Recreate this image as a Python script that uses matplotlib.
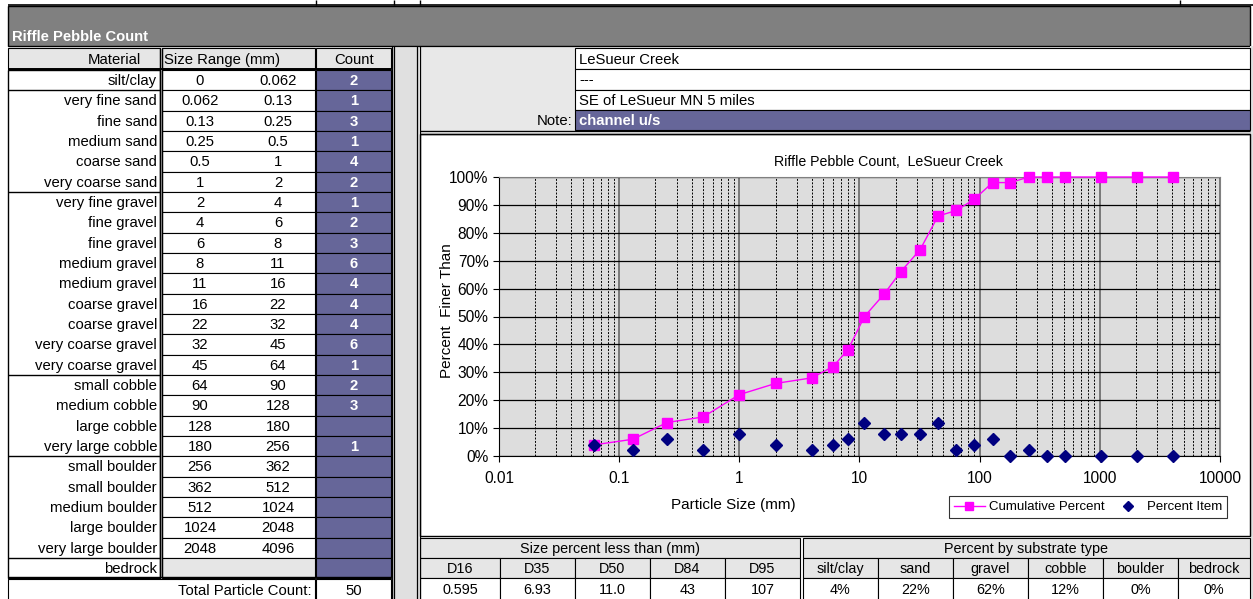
import matplotlib.pyplot as plt
import matplotlib.patches as patches
from matplotlib.ticker import FixedLocator, FuncFormatter, LogLocator, PercentFormatter
from matplotlib.lines import Line2D

plt.rcParams['font.family'] = ['Liberation Sans', 'DejaVu Sans']

# ---- data ----
materials = ['silt/clay', 'very fine sand', 'fine sand', 'medium sand', 'coarse sand',
             'very coarse sand', 'very fine gravel', 'fine gravel', 'fine gravel',
             'medium gravel', 'medium gravel', 'coarse gravel', 'coarse gravel',
             'very coarse gravel', 'very coarse gravel', 'small cobble', 'medium cobble',
             'large cobble', 'very large cobble', 'small boulder', 'small boulder',
             'medium boulder', 'large boulder', 'very large boulder', 'bedrock']
size_lo = ['0', '0.062', '0.13', '0.25', '0.5', '1', '2', '4', '6', '8', '11', '16', '22',
           '32', '45', '64', '90', '128', '180', '256', '362', '512', '1024', '2048', '']
size_hi = ['0.062', '0.13', '0.25', '0.5', '1', '2', '4', '6', '8', '11', '16', '22', '32',
           '45', '64', '90', '128', '180', '256', '362', '512', '1024', '2048', '4096', '']
counts = ['2', '1', '3', '1', '4', '2', '1', '2', '3', '6', '4', '4', '4', '6', '1', '2', '3',
          '', '1', '', '', '', '', '', '']
total_count = '50'

# chart series (x = upper size of each class)
particle_size = [0.062, 0.13, 0.25, 0.5, 1, 2, 4, 6, 8, 11, 16, 22, 32, 45, 64, 90, 128,
                 180, 256, 362, 512, 1024, 2048, 4096]
cum_pct = [4, 6, 12, 14, 22, 26, 28, 32, 38, 50, 58, 66, 74, 86, 88, 92, 98, 98, 100,
           100, 100, 100, 100, 100]
item_pct = [4, 2, 6, 2, 8, 4, 2, 4, 6, 12, 8, 8, 8, 12, 2, 4, 6, 0, 2, 0, 0, 0, 0, 0]

info_lines = ['LeSueur Creek', '---', 'SE of LeSueur MN 5 miles']
note_text = 'channel u/s'

d_labels = ['D16', 'D35', 'D50', 'D84', 'D95']
d_values = ['0.595', '6.93', '11.0', '43', '107']
sub_labels = ['silt/clay', 'sand', 'gravel', 'cobble', 'boulder', 'bedrock']
sub_values = ['4%', '22%', '62%', '12%', '0%', '0%']

PURPLE = '#666699'
LGRAY = '#e6e6e6'
FS = 10.7

W, H = 1253, 599
fig = plt.figure(figsize=(W / 100, H / 100), dpi=100)
bg = fig.add_axes([0, 0, 1, 1])
bg.set_xlim(0, W)
bg.set_ylim(H, 0)
bg.axis('off')


def box(x0, y0, x1, y1, fc='white', ec='black', lw=0.8):
    bg.add_patch(patches.Rectangle((x0, y0), x1 - x0, y1 - y0, fc=fc, ec=ec, lw=lw))


def hl(y, x0, x1, lw=1.0, c='black'):
    bg.plot([x0, x1], [y, y], color=c, lw=lw, solid_capstyle='butt')


def vl(x, y0, y1, lw=1.0, c='black'):
    bg.plot([x, x], [y0, y1], color=c, lw=lw, solid_capstyle='butt')


def txt(x, y, s, ha='center', **kw):
    kw.setdefault('fontsize', FS)
    bg.text(x, y + 1, s, ha=ha, va='center', **kw)


# top band
hl(5, 8, 1253, lw=1.2)
for x in [316, 394, 420, 1180]:
    vl(x, 0, 5, lw=1.0)
box(8, 6, 1250, 46, fc='#808080', ec='black', lw=1.0)
txt(12, 36, 'Riffle Pebble Count', ha='left', color='white', fontweight='bold', fontsize=10.6)

# ---- left table ----
row_top = 70
row_h = 20.33
box(8, 48, 160, 69, fc=LGRAY)
box(162, 48, 315, 69, fc=LGRAY)
box(316, 48, 391, 69, fc=LGRAY)
txt(114, 59, 'Material')
txt(164, 59, 'Size Range (mm)', ha='left')
txt(354, 59, 'Count')

group_ends = [0, 5, 14, 18, 23, 24]
for i, name in enumerate(materials):
    y0 = row_top + i * row_h
    y1 = y0 + row_h
    yc = (y0 + y1) / 2
    box(162, y0, 315, y1, fc=LGRAY if name == 'bedrock' else 'white')
    box(316, y0, 391, y1, fc=PURPLE)
    txt(157, yc, name, ha='right')
    txt(200, yc, size_lo[i])
    txt(278, yc, size_hi[i])
    txt(354, yc, counts[i], color='white', fontweight='bold')
bot = row_top + len(materials) * row_h
box(8, row_top, 160, bot, fc='none', lw=1.0)
for g in group_ends:
    hl(row_top + (g + 1) * row_h, 8, 160, lw=1.0)
vl(160, 48, bot, lw=1.0)
vl(162, 48, bot, lw=1.0)
hl(row_top - 1, 8, 391, lw=1.4)

# total row
box(8, 579, 315, 600, fc='white')
box(316, 579, 391, 600, fc='white')
hl(577, 8, 391, lw=1.0)
txt(312, 590, 'Total Particle Count:', ha='right')
txt(354, 590, total_count)

# gray separator strip
box(393, 48, 419, 600, fc='#e0e0e0', ec='none')
for x in [391.5, 394, 417, 419.5]:
    vl(x, 46, 599, lw=0.9)
box(1250, 46, 1253, 599, fc='#e0e0e0', ec='none')

# ---- info block ----
box(420, 48, 575, 131, fc='#e8e8e8', ec='none')
info_rows = [(48, 69), (69, 90), (90, 110), (110, 130)]
for (y0, y1), s in zip(info_rows[:3], info_lines):
    box(575, y0, 1250, y1, fc='white')
    txt(579, (y0 + y1) / 2, s, ha='left')
box(575, 110, 1250, 130, fc=PURPLE)
txt(579, 120, note_text, ha='left', color='white', fontweight='bold')
txt(573, 120, 'Note:', ha='right')
hl(131, 420, 1250, lw=1.0)
hl(134, 420, 1250, lw=1.0)
box(420, 134, 1250, 536, fc='white', lw=1.0)

# ---- bottom table ----
FSB = 10.4
d_edges = [420, 500, 575, 650, 725, 800]
s_edges = [803, 878, 953, 1028, 1103, 1178, 1250]
box(420, 538, 800, 558, fc=LGRAY)
box(803, 538, 1250, 558, fc=LGRAY)
txt(610, 548, 'Size percent less than (mm)', fontsize=FSB)
txt(1026, 548, 'Percent by substrate type', fontsize=FSB)
for edges, labs, vals in [(d_edges, d_labels, d_values), (s_edges, sub_labels, sub_values)]:
    for k in range(len(labs)):
        x0, x1 = edges[k], edges[k + 1]
        box(x0, 558, x1, 578, fc=LGRAY)
        box(x0, 578, x1, 600, fc='white')
        txt((x0 + x1) / 2, 568, labs[k], fontsize=FSB)
        txt((x0 + x1) / 2, 589, vals[k], fontsize=FSB)

# ---- chart ----
L, R, T, B = 499, 1220, 177, 456
ax = fig.add_axes([L / W, (H - B) / H, (R - L) / W, (B - T) / H])
ax.set_facecolor('#dddddd')
ax.set_xscale('log')
ax.set_xlim(0.01, 10000)
ax.set_ylim(0, 1.0)
ax.yaxis.set_major_locator(FixedLocator([i / 10 for i in range(11)]))
ax.yaxis.set_major_formatter(PercentFormatter(1.0, decimals=0))
ax.xaxis.set_major_locator(FixedLocator([0.01, 0.1, 1, 10, 100, 1000, 10000]))
ax.xaxis.set_minor_locator(LogLocator(base=10, subs=range(2, 10)))
ax.xaxis.set_major_formatter(FuncFormatter(lambda v, p: f'{v:g}'))
ax.grid(True, which='major', axis='x', color='#707070', lw=1.3)
ax.grid(True, which='minor', axis='x', color='black', lw=0.7, ls=(0, (2, 1.5)))
ax.grid(True, which='major', axis='y', color='black', lw=0.9)
ax.set_axisbelow(True)
ax.tick_params(which='major', labelsize=11.2, length=4, color='black')
ax.tick_params(which='minor', length=0)
ax.tick_params(axis='x', pad=7)
for s in ['top', 'right']:
    ax.spines[s].set_color('#808080')
for s in ['left', 'bottom']:
    ax.spines[s].set_color('black')

ax.plot(particle_size, [c / 100 for c in cum_pct], color='#ff00ff', lw=1.0,
        marker='s', ms=7, clip_on=False, zorder=3)
ax.plot(particle_size, [p / 100 for p in item_pct], ls='none', color='#000080',
        marker='D', ms=6, clip_on=False, zorder=4)

fig.text(888 / W, 1 - 162 / H, 'Riffle Pebble Count,  LeSueur Creek', ha='center',
         va='center', fontsize=10.2)
fig.text(447 / W, 1 - 311 / H, 'Percent  Finer Than', rotation=90, ha='center',
         va='center', fontsize=11)
fig.text(733 / W, 1 - 505 / H, 'Particle Size (mm)', ha='center', va='center', fontsize=11)

handles = [Line2D([], [], color='#ff00ff', lw=1.0, marker='s', ms=6),
           Line2D([], [], ls='none', color='#000080', marker='D', ms=5)]
leg = fig.legend(handles, ['Cumulative Percent', 'Percent Item'], ncol=2,
                 loc='center', bbox_to_anchor=(1088 / W, 1 - 507 / H), fontsize=9.5,
                 frameon=True, fancybox=False, edgecolor='black', handlelength=2.4,
                 columnspacing=0.6, borderpad=0.35, handletextpad=0.25)
leg.get_frame().set_linewidth(0.8)

fig.savefig('out.png', dpi=100)
